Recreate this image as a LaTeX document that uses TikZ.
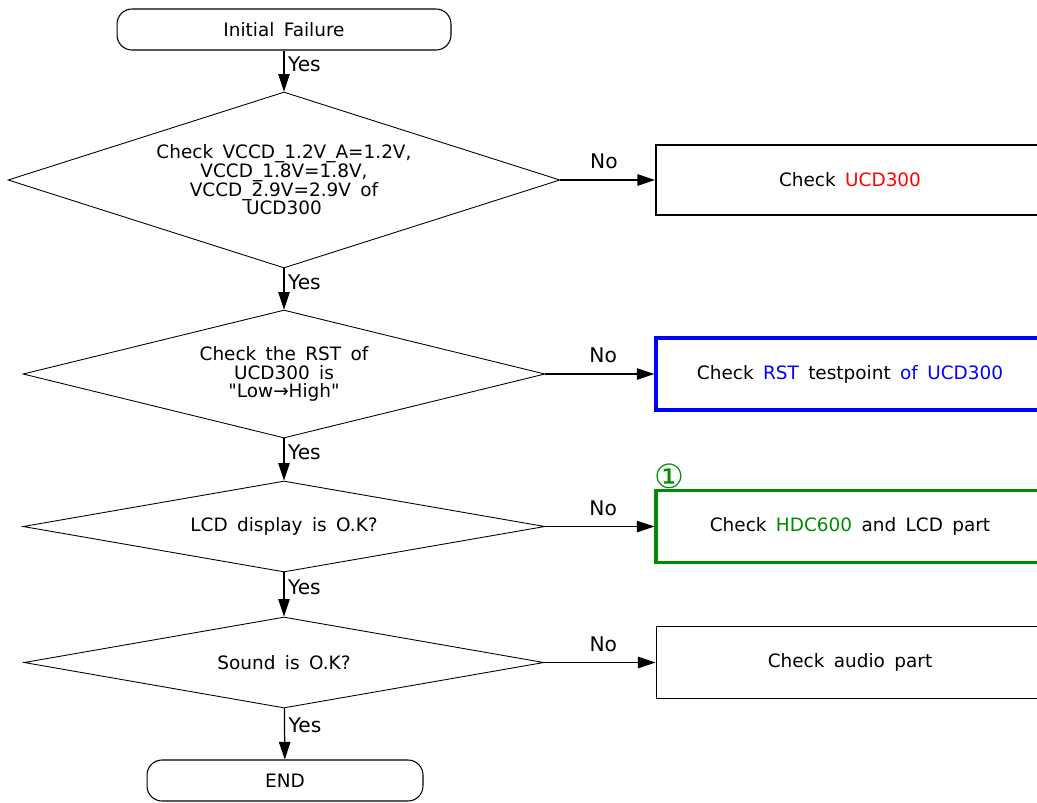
\documentclass[tikz,border=0pt]{standalone}
\usepackage{fontspec}
\setmainfont{DejaVu Sans}[WordSpace=1.6]
\usetikzlibrary{shapes.geometric,arrows.meta}
\definecolor{ucdred}{RGB}{255,0,0}
\definecolor{rstblue}{RGB}{0,0,255}
\definecolor{hdcgreen}{RGB}{0,140,0}
\newcommand{\rd}[1]{\textcolor{ucdred}{#1}}
\newcommand{\bl}[1]{\textcolor{rstblue}{#1}}
\newcommand{\gr}[1]{\textcolor{hdcgreen}{#1}}

\begin{document}
\begin{tikzpicture}[x=0.02cm,y=-0.02cm,
    every node/.style={font=\fontsize{10.5}{10.6}\selectfont},
    term/.style={draw,rounded corners=0.3cm,minimum height=0.82cm,line width=0.6pt},
    dec/.style={draw,diamond,inner sep=0pt,align=center,line width=0.5pt},
    act/.style={draw,rectangle,minimum width=7.76cm,minimum height=1.44cm},
    flow/.style={-{Triangle[length=10pt,width=6.5pt]},line width=0.7pt},
    yes/.style={right,pos=0.33,inner sep=2pt,font=\fontsize{11.5}{12}\selectfont},
    no/.style={above=6pt,pos=0.53,inner sep=0pt,font=\fontsize{11.5}{12}\selectfont}]
  \useasboundingbox (0,0) rectangle (1037,802);

  \node[term,minimum width=6.68cm] (init) at (284,29.5) {Initial Failure};
  \node[dec,aspect=3.14,minimum width=11.04cm,minimum height=3.52cm] (chkv) at (284,180)
    {Check VCCD\_1.2V\_A=1.2V,\\VCCD\_1.8V=1.8V,\\VCCD\_2.9V=2.9V of\\UCD300};
  \node[dec,aspect=4.08,minimum width=10.44cm,minimum height=2.56cm] (chkrst) at (284,374)
    {Check the RST of\\UCD300 is\\\textquotedbl Low→High\textquotedbl};
  \node[dec,aspect=5.7,minimum width=10.44cm,minimum height=1.82cm] (lcd) at (284,526.5)
    {LCD display is O.K?};
  \node[dec,aspect=5.7,minimum width=10.4cm,minimum height=1.82cm] (snd) at (284,662.5)
    {Sound is O.K?};
  \node[term,minimum width=5.52cm] (fin) at (285,780.5) {END};

  \node[act,line width=1.2pt,minimum height=1.4cm] (ucd) at (850,180) {Check \rd{UCD300}};
  \node[act,draw=rstblue,line width=1.8pt] (rst) at (850,374) {Check \bl{RST} testpoint \bl{of UCD300}};
  \node[act,draw=hdcgreen,line width=1.8pt] (hdc) at (850,526.5) {Check \gr{HDC600} and LCD part};
  \node[act,line width=0.6pt] (aud) at (850,662.5) {Check audio part};
  \node[above right,inner sep=0pt,text=hdcgreen,font=\fontsize{19}{19}\selectfont] (mark) at (hdc.north west) {①};

  \draw[flow] (init) -- node[yes] {Yes} (chkv);
  \draw[flow] (chkv) -- node[yes] {Yes} (chkrst);
  \draw[flow] (chkrst) -- node[yes] {Yes} (lcd);
  \draw[flow] (lcd) -- node[yes] {Yes} (snd);
  \draw[flow] (snd) -- node[yes] {Yes} (fin);

  \draw[flow] (chkv) -- node[no,pos=0.46] {No} (ucd);
  \draw[flow] (chkrst) -- node[no] {No} (rst);
  \draw[flow] (lcd) -- node[no] {No} (hdc);
  \draw[flow] (snd) -- node[no] {No} (aud);
\end{tikzpicture}
\end{document}
